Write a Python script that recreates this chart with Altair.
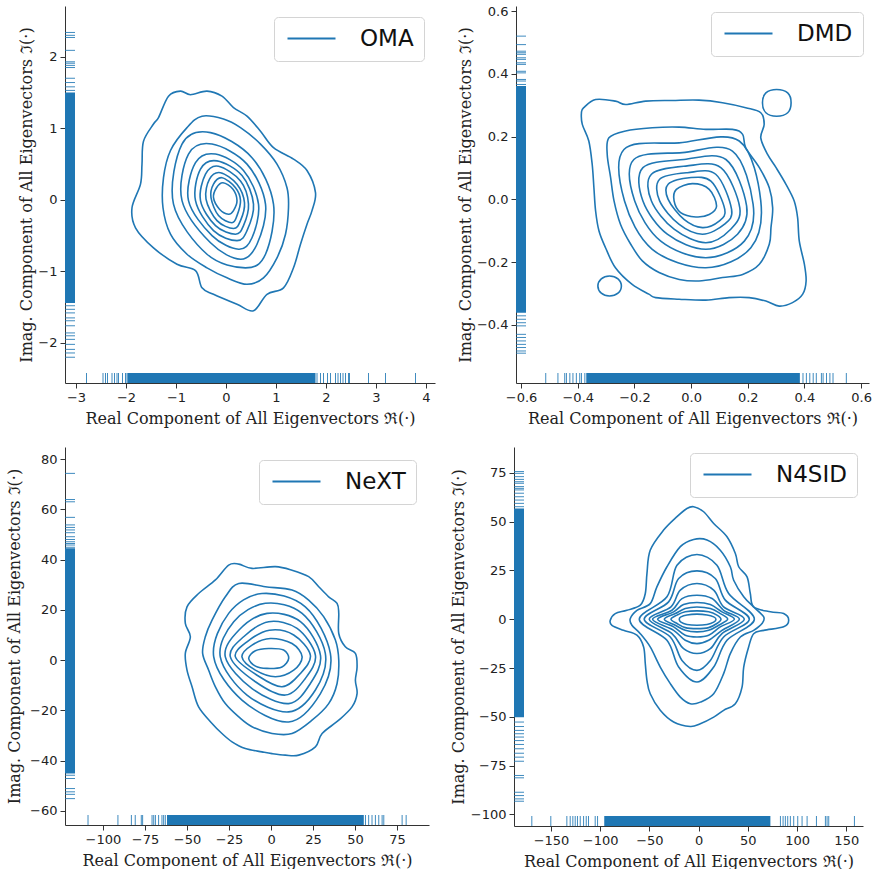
import altair as alt
import pandas as pd

BLUE = "#1f77b4"
X_TITLE = "Real Component of All Eigenvectors ℜ(·)"
Y_TITLE = "Imag. Component of All Eigenvectors ℑ(·)"

# ---------------------------------------------------------------- OMA
OMA_CONTOURS = [
    [(-1.15, 1.45), (-0.91, 1.52), (-0.71, 1.47), (-0.38, 1.52), (-0.08, 1.45), (0.15, 1.29),
     (0.42, 1.17), (0.69, 0.96), (0.95, 0.73), (1.35, 0.57), (1.62, 0.41), (1.79, 0.10),
     (1.72, -0.15), (1.62, -0.34), (1.49, -0.62), (1.35, -0.95), (1.15, -1.23), (0.82, -1.32),
     (0.55, -1.55), (0.22, -1.46), (-0.25, -1.32), (-0.48, -1.23), (-0.61, -0.99), (-0.98, -0.90),
     (-1.45, -0.67), (-1.81, -0.39), (-1.88, -0.11), (-1.71, 0.22), (-1.68, 0.50), (-1.65, 0.82),
     (-1.45, 1.06), (-1.35, 1.15)],
    [(-0.78, 1.01), (-0.48, 1.17), (-0.05, 1.13), (0.29, 1.01), (0.69, 0.78), (1.02, 0.50),
     (1.22, 0.17), (1.25, -0.11), (1.19, -0.48), (1.02, -0.81), (0.75, -1.09), (0.42, -1.18),
     (0.02, -1.09), (-0.38, -0.95), (-0.78, -0.76), (-1.11, -0.48), (-1.26, -0.11), (-1.25, 0.31),
     (-1.11, 0.69)],
    [(-0.31, 0.94), (0.52, 0.59), (0.95, -0.06), (0.79, -0.76), (0.39, -0.95), (-0.38, -0.76),
     (-1.05, -0.06), (-0.88, 0.78)],
    [(-0.28, 0.78), (0.42, 0.50), (0.79, -0.06), (0.62, -0.62), (0.29, -0.83), (-0.31, -0.60),
     (-0.88, -0.01), (-0.75, 0.64)],
    [(-0.21, 0.64), (0.35, 0.41), (0.65, -0.06), (0.52, -0.53), (0.25, -0.69), (-0.28, -0.50),
     (-0.75, -0.01), (-0.61, 0.52)],
    [(-0.18, 0.545), (0.32, 0.34), (0.55, -0.06), (0.42, -0.43), (0.22, -0.57), (-0.25, -0.43),
     (-0.61, -0.01), (-0.51, 0.43)],
    [(-0.15, 0.47), (0.29, 0.265), (0.45, -0.06), (0.35, -0.36), (0.19, -0.48), (-0.21, -0.36),
     (-0.51, -0.01), (-0.41, 0.36)],
    [(-0.11, 0.38), (0.22, 0.22), (0.37, -0.04), (0.29, -0.29), (0.15, -0.40), (-0.18, -0.29),
     (-0.40, 0.01), (-0.33, 0.29)],
    [(-0.08, 0.31), (0.19, 0.17), (0.29, -0.01), (0.22, -0.22), (0.12, -0.32), (-0.15, -0.22),
     (-0.30, 0.03), (-0.25, 0.22)],
    [(-0.06, 0.24), (0.14, 0.15), (0.22, -0.01), (0.15, -0.15), (0.05, -0.20), (-0.13, -0.13),
     (-0.25, 0.03), (-0.19, 0.17)],
]
OMA_RUG_X = [-2.79, -2.46, -2.41, -2.37, -2.28, -2.23, -2.18, -2.15, -2.07, -2.01, -1.98,
             1.82, 1.89, 1.95, 2.03, 2.09, 2.19, 2.24, 2.29, 2.34, 2.39, 2.45, 2.47, 2.85, 3.19, 3.79]
OMA_BAND_X = (-1.97, 1.79)
OMA_RUG_Y = [2.34, 2.30, 2.27, 2.09, 1.93, 1.91, 1.88, 1.85, 1.70, 1.64, 1.58, 1.53,
             -1.48, -1.53, -1.58, -1.65, -1.69, -1.76, -1.86, -1.90, -1.95, -2.02, -2.09, -2.14, -2.20]
OMA_BAND_Y = (-1.44, 1.50)

# ---------------------------------------------------------------- DMD
DMD_CONTOURS = [
    [(-0.379, 0.292), (-0.337, 0.318), (-0.267, 0.313), (-0.231, 0.302), (-0.160, 0.313),
     (-0.066, 0.315), (0.028, 0.316), (0.111, 0.308), (0.193, 0.292), (0.246, 0.276),
     (0.258, 0.239), (0.246, 0.196), (0.270, 0.143), (0.300, 0.101), (0.335, 0.048),
     (0.364, -0.005), (0.376, -0.058), (0.382, -0.133), (0.400, -0.207), (0.406, -0.260),
     (0.394, -0.302), (0.358, -0.329), (0.311, -0.340), (0.264, -0.324), (0.205, -0.313),
     (0.134, -0.313), (0.052, -0.321), (-0.042, -0.318), (-0.125, -0.313), (-0.149, -0.302),
     (-0.208, -0.271), (-0.267, -0.218), (-0.302, -0.154), (-0.325, -0.101), (-0.337, -0.037),
     (-0.343, 0.037), (-0.349, 0.111), (-0.361, 0.186), (-0.384, 0.239), (-0.387, 0.276)],
    [(0.302, 0.350), (0.341, 0.339), (0.353, 0.308), (0.341, 0.276), (0.302, 0.265),
     (0.264, 0.276), (0.252, 0.308), (0.264, 0.339)],
    [(-0.288, -0.244), (-0.258, -0.253), (-0.246, -0.276), (-0.258, -0.299), (-0.288, -0.308),
     (-0.317, -0.299), (-0.329, -0.276), (-0.317, -0.253)],
    [(-0.290, 0.196), (-0.231, 0.218), (-0.137, 0.228), (-0.042, 0.230), (0.052, 0.223),
     (0.146, 0.223), (0.182, 0.207), (0.193, 0.164), (0.241, 0.101), (0.276, 0.037),
     (0.288, -0.027), (0.282, -0.090), (0.276, -0.143), (0.241, -0.207), (0.182, -0.239),
     (0.111, -0.249), (0.028, -0.260), (-0.042, -0.255), (-0.113, -0.233), (-0.172, -0.196),
     (-0.213, -0.143), (-0.249, -0.080), (-0.272, -0.005), (-0.284, 0.069), (-0.296, 0.143)],
    [(-0.237, 0.159), (-0.042, 0.180), (0.170, 0.186), (0.246, -0.005), (0.211, -0.154),
     (0.052, -0.218), (-0.137, -0.159), (-0.235, -0.005)],
    [(-0.202, 0.127), (-0.031, 0.149), (0.146, 0.154), (0.219, -0.016), (0.188, -0.133),
     (0.052, -0.186), (-0.107, -0.133), (-0.199, -0.005)],
    [(-0.170, 0.101), (-0.025, 0.127), (0.123, 0.127), (0.196, -0.021), (0.164, -0.111),
     (0.052, -0.159), (-0.084, -0.111), (-0.170, -0.005)],
    [(-0.140, 0.080), (-0.019, 0.106), (0.105, 0.101), (0.172, -0.027), (0.140, -0.095),
     (0.052, -0.138), (-0.060, -0.095), (-0.140, -0.005)],
    [(-0.111, 0.064), (-0.013, 0.085), (0.087, 0.080), (0.143, -0.032), (0.117, -0.080),
     (0.040, -0.111), (-0.042, -0.080), (-0.111, -0.005)],
    [(-0.081, 0.048), (-0.007, 0.069), (0.070, 0.058), (0.119, -0.032), (0.099, -0.069),
     (0.040, -0.090), (-0.025, -0.064), (-0.081, 0.000)],
    [(-0.052, 0.032), (0.005, 0.050), (0.064, 0.032), (0.090, -0.021), (0.064, -0.048),
     (0.017, -0.056), (-0.037, -0.042), (-0.060, -0.005)],
]
DMD_RUG_X = [-0.513, -0.470, -0.446, -0.440, -0.428, -0.417, -0.405, -0.393, -0.387, -0.375,
             0.395, 0.407, 0.419, 0.431, 0.442, 0.460, 0.466, 0.478, 0.490, 0.501, 0.548]
DMD_BAND_X = (-0.370, 0.384)
DMD_RUG_Y = [0.520, 0.493, 0.472, 0.467, 0.462, 0.451, 0.446, 0.435, 0.430, 0.408, 0.403,
             0.382, 0.377, 0.366, -0.371, -0.382, -0.393, -0.403, -0.430, -0.440, -0.451,
             -0.462, -0.472, -0.483, -0.490]
DMD_BAND_Y = (-0.361, 0.361)

# ---------------------------------------------------------------- NeXT
NEXT_CONTOURS = [
    [(-25.2, 37.8), (-19.2, 38.2), (-11.3, 36.5), (2.6, 37.2), (12.5, 35.8), (22.4, 33.2),
     (28.4, 29.2), (34.3, 25.2), (39.3, 22.6), (40.3, 18.6), (40.3, 10.6), (44.2, 5.3),
     (50.2, 2.7), (51.2, -2.7), (50.2, -8.0), (51.2, -13.3), (48.2, -18.6), (40.3, -23.9),
     (30.4, -29.2), (26.4, -34.5), (16.5, -37.8), (8.5, -37.8), (0.6, -37.2), (-5.4, -36.5),
     (-15.3, -35.2), (-23.2, -32.5), (-29.2, -29.2), (-35.1, -25.2), (-43.1, -18.6),
     (-47.0, -10.6), (-50.0, -4.0), (-51.0, 2.7), (-48.0, 9.3), (-51.0, 14.6), (-50.0, 21.2),
     (-43.1, 26.5), (-33.1, 31.9)],
    [(-19.2, 30.5), (-3.4, 29.2), (12.5, 27.9), (22.4, 23.9), (31.3, 17.3), (38.3, 8.0),
     (40.3, 0.0), (39.3, -9.3), (34.3, -17.3), (24.4, -23.9), (12.5, -29.2), (0.6, -29.2),
     (-11.3, -26.5), (-19.2, -22.6), (-27.2, -17.3), (-33.1, -10.6), (-37.1, -4.0),
     (-40.7, 2.7), (-39.1, 9.3), (-35.1, 15.9), (-27.2, 25.2)],
    [(-5.4, 26.5), (20.4, 21.2), (35.3, 2.7), (29.4, -13.3), (10.5, -24.6), (-17.3, -15.9),
     (-34.1, 1.3), (-25.2, 18.6)],
    [(-3.4, 22.6), (18.5, 18.6), (32.3, 2.7), (26.4, -11.9), (10.5, -20.6), (-14.3, -13.9),
     (-30.2, 1.3), (-22.2, 15.3)],
    [(-2.4, 18.6), (17.5, 15.3), (29.4, 2.0), (23.4, -9.3), (10.5, -17.3), (-11.3, -11.3),
     (-27.2, 1.3), (-19.2, 11.9)],
    [(-1.4, 15.3), (15.5, 12.6), (26.4, 2.0), (20.4, -7.3), (8.5, -13.9), (-9.3, -8.6),
     (-24.2, 1.3), (-16.3, 9.3)],
    [(-1.0, 11.9), (13.5, 10.0), (23.4, 2.0), (17.5, -5.3), (6.5, -10.6), (-8.3, -6.0),
     (-21.2, 1.3), (-14.3, 7.3)],
    [(-0.4, 8.6), (12.5, 6.6), (18.5, 1.3), (13.5, -4.0), (2.6, -6.6), (-9.3, -4.0),
     (-17.3, 1.3), (-11.3, 6.0)],
    [(-1.4, 4.6), (7.5, 4.0), (10.5, 0.7), (6.5, -2.7), (-2.4, -3.3), (-9.3, -2.4),
     (-13.3, 0.7), (-9.3, 3.7)],
]
NEXT_RUG_X = [-108.9, -91.1, -83.1, -80.8, -77.2, -76.4, -70.8, -69.8, -68.8, -66.9, -64.9,
              -63.9, -62.9, 56.2, 58.1, 60.1, 62.1, 64.1, 66.1, 67.1, 78.0, 80.4]
NEXT_BAND_X = (-61.9, 55.2)
NEXT_RUG_Y = [74.3, 63.9, 63.0, 56.8, 53.8, 52.8, 51.8, 50.7, 49.1, 48.0, 47.1, 46.4, 45.8,
              44.9, -45.8, -47.1, -51.1, -52.4, -53.4, -55.1]
NEXT_BAND_Y = (-45.1, 44.5)

# ---------------------------------------------------------------- N4SID
N4SID_CONTOURS = [
    [(-5.1, 57.7), (5.1, 55.1), (15.3, 49.1), (28.8, 42.3), (37.3, 33.7), (40.7, 26.9),
     (49.2, 21.7), (52.5, 13.2), (55.9, 6.3), (72.9, 3.8), (86.4, 2.9), (91.5, -0.5),
     (86.4, -3.9), (66.1, -5.7), (55.9, -7.4), (50.8, -14.2), (45.8, -24.5), (44.1, -34.8),
     (37.3, -43.3), (25.4, -46.7), (15.3, -50.2), (1.7, -53.6), (-8.5, -55.0), (-25.4, -52.7),
     (-39.0, -46.7), (-49.2, -38.2), (-52.5, -31.3), (-54.2, -22.8), (-55.9, -14.2),
     (-62.7, -8.2), (-76.3, -5.7), (-88.1, -3.1), (-89.8, -0.5), (-84.7, 2.9), (-72.9, 4.6),
     (-59.3, 7.2), (-54.2, 13.2), (-52.5, 23.5), (-49.2, 35.4), (-35.6, 45.7), (-22.0, 52.6),
     (-11.9, 56.8)],
    [(-5.1, 40.9), (8.5, 40.6), (22.0, 35.4), (32.2, 26.9), (35.6, 20.0), (45.8, 11.5),
     (55.9, 6.3), (66.1, 1.2), (64.4, -2.2), (55.9, -5.7), (42.4, -9.1), (32.2, -17.6),
     (25.4, -27.9), (15.3, -38.2), (1.7, -42.5), (-8.5, -43.3), (-18.6, -39.9), (-28.8, -33.0),
     (-39.0, -24.5), (-49.2, -14.2), (-59.3, -7.4), (-67.8, -3.1), (-69.5, 0.3), (-62.7, 4.6),
     (-49.2, 8.0), (-42.4, 16.6), (-32.2, 26.9), (-18.6, 37.2)],
    [(-1.7, 33.2), (18.6, 27.7), (30.5, 13.2), (56.6, 0.0), (28.8, -10.8), (15.3, -24.5),
     (-1.7, -32.2), (-20.3, -24.5), (-32.2, -10.8), (-60.3, 0.0), (-32.2, 11.5), (-22.0, 27.7)],
    [(-1.7, 24.8), (16.9, 20.9), (27.1, 9.8), (51.5, 0.0), (25.4, -9.1), (11.9, -21.1),
     (-1.7, -26.2), (-16.9, -21.1), (-28.8, -9.1), (-55.3, 0.0), (-30.5, 8.9), (-20.3, 20.9)],
    [(-1.7, 18.3), (15.3, 14.9), (25.4, 6.3), (46.4, 0.0), (23.7, -7.4), (11.9, -15.1),
     (-1.7, -17.6), (-15.3, -15.1), (-27.1, -7.4), (-50.2, 0.0), (-28.1, 6.3), (-18.6, 14.9)],
    [(-1.7, 12.3), (13.6, 10.6), (25.4, 4.6), (41.4, 0.0), (23.7, -5.7), (10.2, -10.8),
     (-1.7, -12.5), (-13.6, -10.8), (-25.4, -5.7), (-46.8, 0.0), (-27.1, 4.6), (-16.9, 10.6)],
    [(-1.7, 8.6), (11.9, 7.5), (23.7, 3.8), (36.3, 0.0), (22.0, -3.9), (10.2, -8.2),
     (-1.7, -9.1), (-13.6, -8.2), (-25.4, -3.9), (-41.7, 0.0), (-25.4, 3.8), (-15.3, 7.5)],
    [(-1.7, 6.3), (11.9, 5.5), (22.0, 2.9), (29.5, 0.0), (20.3, -3.1), (10.2, -5.7),
     (-1.7, -6.5), (-13.6, -5.7), (-23.7, -3.1), (-34.9, 0.0), (-23.7, 2.9), (-13.6, 5.5)],
    [(-1.7, 4.3), (10.2, 3.8), (18.6, 2.1), (22.7, 0.0), (18.6, -2.2), (10.2, -4.3),
     (-1.7, -4.8), (-13.6, -4.3), (-22.0, -2.2), (-28.1, 0.0), (-22.0, 2.1), (-13.6, 3.8)],
    [(-1.7, 2.6), (8.5, 2.2), (15.3, 1.2), (17.6, 0.0), (15.3, -1.5), (8.5, -2.7),
     (-1.7, -3.1), (-11.9, -2.7), (-18.0, -1.5), (-19.7, 0.0), (-18.0, 1.2), (-11.9, 2.2)],
]
N4SID_RUG_X = [-169.5, -150.2, -133.9, -130.5, -127.8, -125.4, -123.1, -120.3, -116.9, -114.2,
               -111.9, -105.1, -102.7, 83.1, 85.8, 88.1, 90.5, 93.2, 96.6, 100.7, 105.1, 110.2,
               119.7, 128.8, 130.5, 132.2, 158.3]
N4SID_BAND_X = (-95.9, 72.9)
N4SID_RUG_Y = [75.7, 74.8, 73.1, 71.7, 70.5, 69.7, 68.0, 67.1, 66.3, 64.6, 62.8, 61.1, 59.4,
               57.7, -52.7, -55.0, -57.0, -58.7, -60.4, -62.2, -64.2, -66.4, -68.7, -70.7,
               -72.8, -80.1, -81.3, -88.7, -90.4, -92.1, -93.3]
N4SID_BAND_Y = (-50.2, 56.8)

RUG_LEN = 10  # rug tick length in px
# legend line sample: a path in the unit symbol box, drawn 48 px long at size 256
LEGEND_LINE = "M-1,0H5"


def panel(method, contours, rug_x, band_x, rug_y, band_y, x_dom, y_dom,
          x_ticks, y_ticks, fmt, width, height, legend_offset, y_title_pad):
    rows = []
    for lvl, pts in enumerate(contours):
        for k, (x, y) in enumerate(pts):
            rows.append({"x": x, "y": y, "level": lvl, "k": k, "method": method})
    cdf = pd.DataFrame(rows)

    xs = alt.Scale(domain=list(x_dom), nice=False, zero=False)
    ys = alt.Scale(domain=list(y_dom), nice=False, zero=False)
    xax = alt.Axis(values=x_ticks, format=fmt, title=X_TITLE)
    yax = alt.Axis(values=y_ticks, format=fmt, title=Y_TITLE, titlePadding=y_title_pad)

    lines = alt.Chart(cdf).mark_line(interpolate="cardinal-closed", strokeWidth=1.6).encode(
        x=alt.X("x:Q", scale=xs, axis=xax),
        y=alt.Y("y:Q", scale=ys, axis=yax),
        color=alt.Color(
            "method:N",
            scale=alt.Scale(range=[BLUE]),
            legend=alt.Legend(
                title=None, orient="top-right", offset=legend_offset,
                symbolType=LEGEND_LINE, symbolSize=256, symbolStrokeWidth=2,
                labelFont="DejaVu Sans", labelFontSize=23, labelColor="#111111",
                labelOffset=53, padding=10, strokeColor="#d4d4d4",
                cornerRadius=4, fillColor="white",
            ),
        ),
        detail="level:N",
        order="k:Q",
    )

    rx = alt.Chart(pd.DataFrame({"v": rug_x})).mark_rule(color=BLUE, strokeWidth=1, opacity=0.85).encode(
        x=alt.X("v:Q", scale=xs, axis=xax),
        y=alt.value(height - RUG_LEN), y2=alt.value(height),
    )
    bx = alt.Chart(pd.DataFrame({"lo": [band_x[0]], "hi": [band_x[1]]})).mark_rect(color=BLUE).encode(
        x=alt.X("lo:Q", scale=xs, axis=xax), x2="hi:Q",
        y=alt.value(height - RUG_LEN), y2=alt.value(height),
    )
    ry = alt.Chart(pd.DataFrame({"v": rug_y})).mark_rule(color=BLUE, strokeWidth=1, opacity=0.85).encode(
        y=alt.Y("v:Q", scale=ys, axis=yax),
        x=alt.value(0), x2=alt.value(RUG_LEN),
    )
    by = alt.Chart(pd.DataFrame({"lo": [band_y[0]], "hi": [band_y[1]]})).mark_rect(color=BLUE).encode(
        y=alt.Y("lo:Q", scale=ys, axis=yax), y2="hi:Q",
        x=alt.value(0), x2=alt.value(RUG_LEN),
    )
    return alt.layer(bx, rx, by, ry, lines).properties(width=width, height=height)


p1 = panel("OMA", OMA_CONTOURS, OMA_RUG_X, OMA_BAND_X, OMA_RUG_Y, OMA_BAND_Y,
           (-3.22, 4.18), (-2.56, 2.71), [-3, -2, -1, 0, 1, 2, 3, 4], [-2, -1, 0, 1, 2],
           "d", 370, 377, 11, 3)
p2 = panel("DMD", DMD_CONTOURS, DMD_RUG_X, DMD_BAND_X, DMD_RUG_Y, DMD_BAND_Y,
           (-0.618, 0.628), (-0.585, 0.616),
           [-0.6, -0.4, -0.2, 0.0, 0.2, 0.4, 0.6], [-0.4, -0.2, 0.0, 0.2, 0.4, 0.6],
           ".1f", 353, 377, 6, 3)
p3 = panel("NeXT", NEXT_CONTOURS, NEXT_RUG_X, NEXT_BAND_X, NEXT_RUG_Y, NEXT_BAND_Y,
           (-122.6, 94.0), (-65.6, 84.8),
           [-100, -75, -50, -25, 0, 25, 50, 75], [-60, -40, -20, 0, 20, 40, 60, 80],
           "d", 364, 378, 13, 7)
p4 = panel("N4SID", N4SID_CONTOURS, N4SID_RUG_X, N4SID_BAND_X, N4SID_RUG_Y, N4SID_BAND_Y,
           (-187.6, 167.0), (-106.0, 88.3),
           [-150, -100, -50, 0, 50, 100, 150], [-100, -75, -50, -25, 0, 25, 50, 75],
           "d", 349, 379, 6, 4)


def indep(c):
    return c.resolve_scale(x="independent", y="independent", color="independent").resolve_legend(
        color="independent")


top = indep(alt.hconcat(p1, p2, spacing=22))
bottom = indep(alt.hconcat(p3, p4, spacing=21))
chart = indep(alt.vconcat(top, bottom, spacing=21)).properties(
    padding={"left": 6, "top": 5, "right": 0, "bottom": 0}
).configure_view(stroke=None).configure_axis(
    grid=False,
    domainColor="#333333", domainWidth=1,
    tickColor="#333333", tickSize=5, tickWidth=1,
    labelFont="DejaVu Sans", labelFontSize=13, labelColor="#222222", labelPadding=3,
    titleFont="DejaVu Serif", titleFontSize=16, titleFontWeight="normal", titleColor="#222222",
).configure_axisX(titlePadding=6)

chart.save("out.html", embed_options={"renderer": "svg", "actions": False})
